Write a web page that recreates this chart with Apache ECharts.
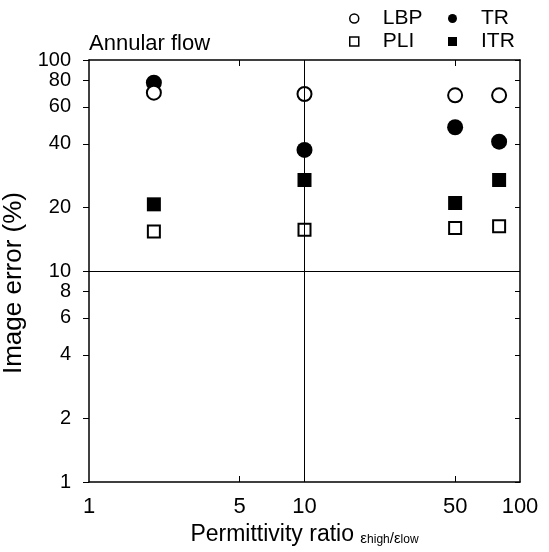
<!DOCTYPE html>
<html>
<head>
<meta charset="utf-8">
<script src="https://cdn.jsdelivr.net/npm/echarts@6/dist/echarts.min.js"></script>
<style>
html,body{margin:0;padding:0;background:#fff;}
#chart{width:549px;height:552px;}
</style>
</head>
<body>
<div id="chart"></div>
<script>
// ---- data ----
var ratios = [2, 10, 50, 80];
var seriesNames = ['LBP', 'TR', 'PLI', 'ITR'];
var lbpValues = [70, 69, 68, 68];
var trValues  = [78, 37.5, 48, 41];
var pliValues = [15.4, 15.7, 16, 16.3];
var itrValues = [20.7, 27, 21, 27];
var xTickLabels = [1, 5, 10, 50, 100];
var xMinorTicks = [5, 50];
var yTickLabels = [1, 2, 4, 6, 8, 10, 20, 40, 60, 80, 100];

function pairs(vals) { return ratios.map(function (x, i) { return [x, vals[i]]; }); }

var FONT = 'Liberation Sans, Arial, Helvetica, sans-serif';
var INK = '#000';
var openStyle = { color: '#fff', borderColor: INK, borderWidth: 2, opacity: 1 };
var fillStyle = { color: INK, borderColor: INK, borderWidth: 0, opacity: 1 };
var sqPath = 'path://M0,0L10,0L10,10L0,10Z';

var chart = echarts.init(document.getElementById('chart'), null, { renderer: 'canvas' });
chart.setOption({
  animation: false,
  backgroundColor: '#fff',
  title: {
    text: 'Annular flow', left: 84, top: 28,
    textStyle: { fontFamily: FONT, fontSize: 22, fontWeight: 'normal', color: INK }
  },
  legend: [
    {
      orient: 'vertical', left: 344, top: 3, itemWidth: 47, itemHeight: 9, itemGap: 2,
      selectedMode: false, symbolKeepAspect: true,
      textStyle: { fontFamily: FONT, fontSize: 21, color: INK },
      data: [
        { name: 'LBP', icon: 'circle', itemStyle: { color: '#fff', borderColor: INK, borderWidth: 1.5, opacity: 1 } },
        { name: 'PLI', icon: sqPath, itemStyle: { color: '#fff', borderColor: INK, borderWidth: 1.5, opacity: 1 } }
      ]
    },
    {
      orient: 'vertical', left: 443, top: 3, itemWidth: 47, itemHeight: 9, itemGap: 2,
      selectedMode: false, symbolKeepAspect: true,
      textStyle: { fontFamily: FONT, fontSize: 21, color: INK },
      data: [
        { name: 'TR', icon: 'circle', itemStyle: { color: INK, borderWidth: 0, opacity: 1 } },
        { name: 'ITR', icon: sqPath, itemStyle: { color: INK, borderWidth: 0, opacity: 1 } }
      ]
    }
  ],
  grid: { left: 89, right: 29, top: 60, bottom: 70, containLabel: false, outerBoundsMode: 'none' },
  xAxis: [
    {
      type: 'log', logBase: 10, min: 1, max: 100, position: 'bottom',
      name: 'Permittivity ratio {eps|ε}{sub|high}{eps|/ε}{sub|low}',
      nameLocation: 'middle', nameGap: 27,
      nameTextStyle: {
        fontFamily: FONT, fontSize: 23, color: INK,
        rich: {
          eps: { fontFamily: FONT, fontSize: 15, color: INK, verticalAlign: 'bottom', lineHeight: 20 },
          sub: { fontFamily: FONT, fontSize: 12, color: INK, verticalAlign: 'bottom', lineHeight: 12, padding: [8, 0, 0, 0] }
        }
      },
      axisLine: { show: true, lineStyle: { color: INK, width: 1.5 } },
      axisTick: { show: true, inside: true, length: 6, customValues: xMinorTicks, lineStyle: { color: INK, width: 1 } },
      axisLabel: { show: true, customValues: xTickLabels, margin: 14, fontFamily: FONT, fontSize: 22, color: INK },
      splitLine: { show: false }, minorTick: { show: false }
    },
    {
      type: 'log', logBase: 10, min: 1, max: 100, position: 'top',
      axisLine: { show: true, lineStyle: { color: INK, width: 1.5 } },
      axisTick: { show: true, inside: true, length: 6, customValues: xMinorTicks, lineStyle: { color: INK, width: 1 } },
      axisLabel: { show: false },
      splitLine: { show: false }
    }
  ],
  yAxis: [
    {
      type: 'log', logBase: 10, min: 1, max: 100, position: 'left',
      name: 'Image error (%)', nameLocation: 'middle', nameGap: 55,
      nameTextStyle: { fontFamily: FONT, fontSize: 26, color: INK, padding: [0, 24, 0, 0] },
      axisLine: { show: true, lineStyle: { color: INK, width: 1.5 } },
      axisTick: { show: true, inside: false, length: 6, customValues: yTickLabels, lineStyle: { color: INK, width: 1 } },
      axisLabel: { show: true, customValues: yTickLabels, margin: 18, fontFamily: FONT, fontSize: 20, color: INK },
      splitLine: { show: false }, minorTick: { show: false }
    },
    {
      type: 'log', logBase: 10, min: 1, max: 100, position: 'right',
      axisLine: { show: true, lineStyle: { color: INK, width: 1.5 } },
      axisTick: { show: true, inside: true, length: 5, customValues: yTickLabels, lineStyle: { color: INK, width: 1 } },
      axisLabel: { show: false },
      splitLine: { show: false }
    }
  ],
  series: [
    {
      name: 'refLines', type: 'scatter', data: [], z: 1, silent: true,
      markLine: {
        silent: true, symbol: ['none', 'none'], label: { show: false },
        lineStyle: { color: INK, width: 1, type: 'solid', opacity: 1 },
        data: [{ xAxis: 10 }, { yAxis: 10 }]
      }
    },
    { name: 'TR', type: 'scatter', z: 3, data: pairs(trValues), symbol: 'circle', symbolSize: 16, itemStyle: fillStyle },
    { name: 'LBP', type: 'scatter', z: 4, data: pairs(lbpValues), symbol: 'circle', symbolSize: 14, itemStyle: openStyle },
    { name: 'ITR', type: 'scatter', z: 3, data: pairs(itrValues), symbol: 'rect', symbolSize: 14, itemStyle: fillStyle },
    { name: 'PLI', type: 'scatter', z: 3, data: pairs(pliValues), symbol: 'rect', symbolSize: 12, itemStyle: openStyle }
  ]
});
</script>
</body>
</html>
